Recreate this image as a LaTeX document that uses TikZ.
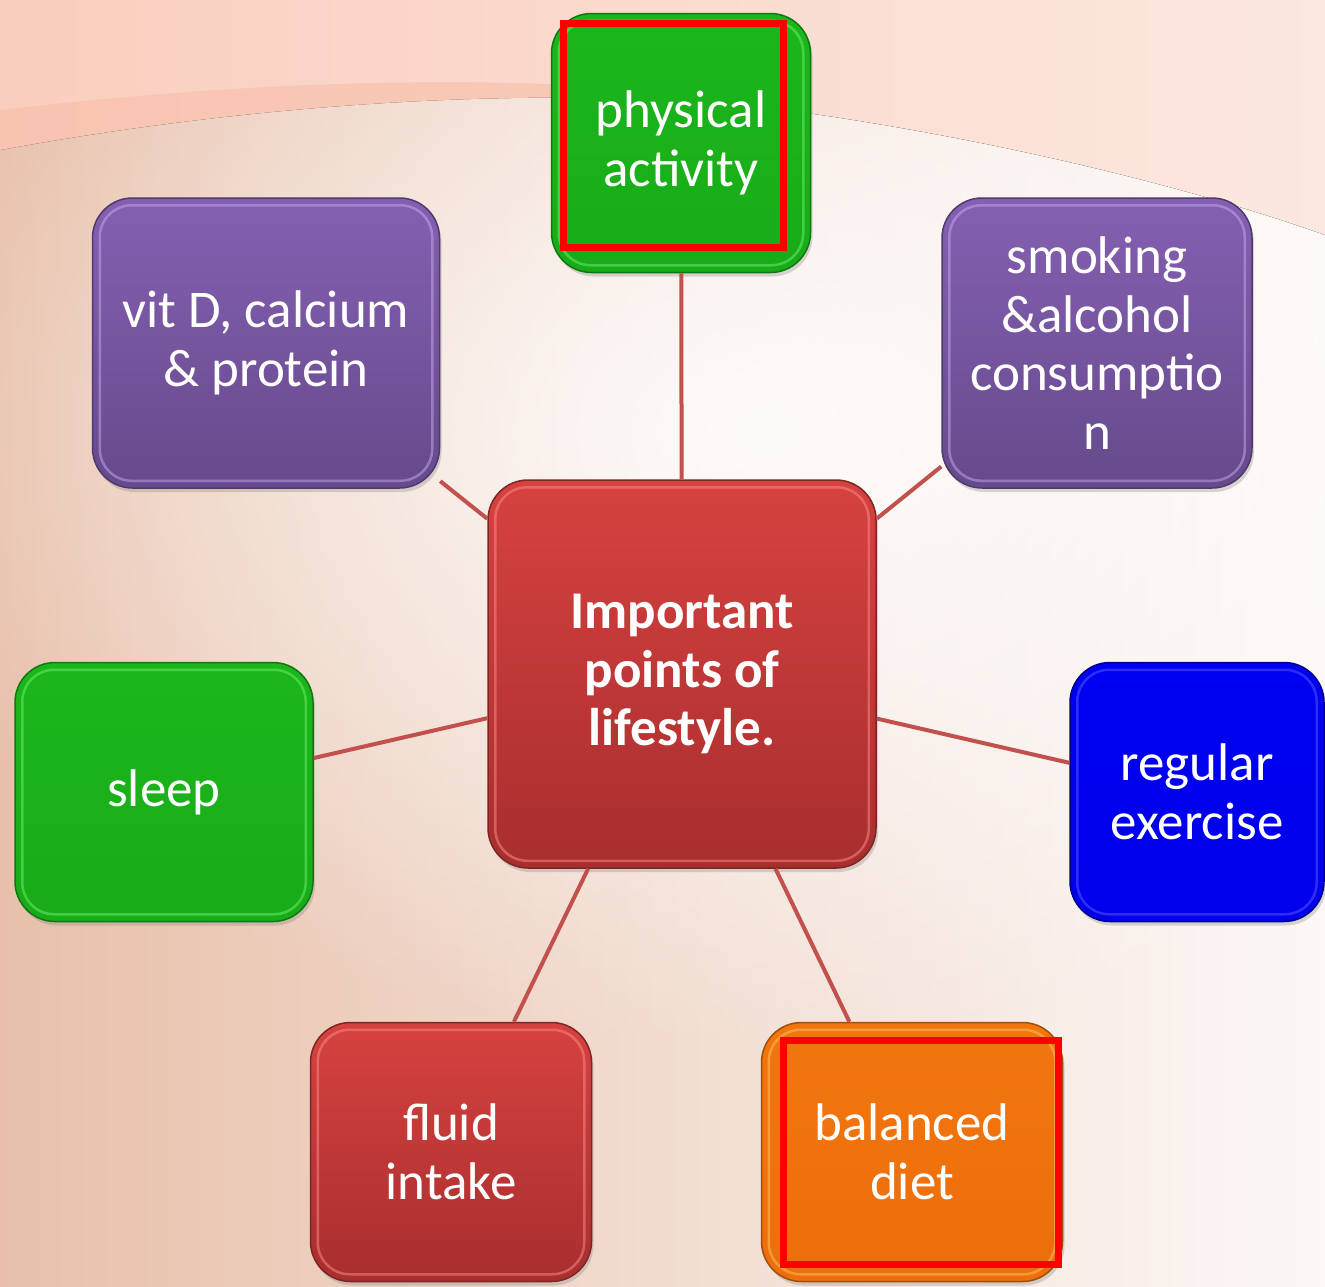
\documentclass[tikz,border=0pt]{standalone}
\usepackage{fontspec}
\setmainfont{Carlito}
\usetikzlibrary{shadows,fadings}
\tikzfading[name=softglow, inner color=transparent!0, outer color=transparent!100]
\definecolor{bgPeach}{RGB}{232,192,170}
\definecolor{bgLight}{RGB}{252,248,246}
\definecolor{bgPinkA}{RGB}{250,206,190}
\definecolor{bgPinkB}{RGB}{252,232,224}
\definecolor{bgBand}{RGB}{247,190,168}
\definecolor{greenTop}{RGB}{28,182,28}
\definecolor{greenBot}{RGB}{24,172,24}
\definecolor{greenEdge}{RGB}{16,120,16}
\definecolor{greenRim}{RGB}{110,240,110}
\definecolor{purpleTop}{RGB}{133,96,178}
\definecolor{purpleBot}{RGB}{102,74,140}
\definecolor{purpleEdge}{RGB}{78,58,108}
\definecolor{purpleRim}{RGB}{200,170,240}
\definecolor{redTop}{RGB}{214,66,64}
\definecolor{redBot}{RGB}{168,46,46}
\definecolor{redEdge}{RGB}{125,38,38}
\definecolor{redRim}{RGB}{255,140,140}
\definecolor{blueTop}{RGB}{0,0,242}
\definecolor{blueBot}{RGB}{0,0,236}
\definecolor{blueEdge}{RGB}{0,0,140}
\definecolor{blueRim}{RGB}{90,90,255}
\definecolor{orangeTop}{RGB}{242,118,14}
\definecolor{orangeBot}{RGB}{236,110,12}
\definecolor{orangeEdge}{RGB}{160,78,10}
\definecolor{orangeRim}{RGB}{255,195,100}
\definecolor{linkRed}{RGB}{194,80,77}
\definecolor{markRed}{RGB}{255,0,0}
\tikzset{
  box/.style={rectangle, rounded corners=40pt, draw=#1Edge, line width=1.5pt,
    top color=#1Top, bottom color=#1Bot, text=white, align=center,
    font=\fontsize{53}{58.5}\selectfont, inner sep=0pt,
    drop shadow={shadow xshift=2pt, shadow yshift=-4pt, opacity=0.3}},
  link/.style={draw=linkRed, line width=4pt},
  markbox/.style={draw=markRed, line width=7pt},
}
\newcommand{\rimline}[2]{%
  \draw[#2, line width=2.5pt, opacity=0.5, rounded corners=32pt]
    ([xshift=8pt,yshift=8pt]#1.south west) rectangle ([xshift=-8pt,yshift=-8pt]#1.north east);}
\begin{document}
\begin{tikzpicture}[x=1pt,y=-1pt]
\useasboundingbox (0,0) rectangle (1325,1286);
\clip (0,0) rectangle (1325,1286);
% background
\fill[left color=bgPeach, right color=bgLight] (0,0) rectangle (1325,1286);
\fill[white, path fading=softglow, opacity=0.9] (760,430) ellipse (900 and 620);
\fill[left color=bgPinkA, right color=bgPinkB]
  (0,0) -- (0,150) .. controls (300,95) and (600,85) .. (800,112)
  .. controls (1000,140) and (1200,190) .. (1325,235) -- (1325,0) -- cycle;
\fill[bgBand, opacity=0.6]
  (0,150) .. controls (300,95) and (600,85) .. (800,112)
  .. controls (600,70) and (300,75) .. (0,110) -- cycle;
% boxes
\node[box=green, minimum width=259pt, minimum height=259pt] (phys) at (681,143) {physical\\activity};
\node[box=purple, minimum width=347pt, minimum height=290pt] (vitd) at (266,343) {vit D, calcium\\\& protein};
\node[box=purple, minimum width=310pt, minimum height=290pt] (smok) at (1097,343) {smoking\\\&alcohol\\consumptio\\n};
\node[box=red, minimum width=388pt, minimum height=388pt, font=\fontsize{53}{58.5}\selectfont\bfseries] (core) at (682,674) {Important\\points of\\lifestyle.};
\node[box=green, minimum width=298pt, minimum height=259pt] (sleep) at (164,792) {sleep};
\node[box=blue, minimum width=254pt, minimum height=259pt] (exer) at (1197,792) {regular\\exercise};
\node[box=red, minimum width=281pt, minimum height=259pt] (fluid) at (451,1152) {fluid\\intake};
\node[box=orange, minimum width=301pt, minimum height=259pt] (diet) at (912,1152) {balanced\\diet};
\rimline{phys}{greenRim}
\rimline{vitd}{purpleRim}
\rimline{smok}{purpleRim}
\rimline{core}{redRim}
\rimline{sleep}{greenRim}
\rimline{exer}{blueRim}
\rimline{fluid}{redRim}
\rimline{diet}{orangeRim}
% connectors
\draw[link] (core) -- (phys);
\draw[link] (core) -- (vitd);
\draw[link] (core) -- (smok);
\draw[link] (core) -- (sleep);
\draw[link] (core) -- (exer);
\draw[link] (core) -- (fluid);
\draw[link] (core) -- (diet);
% highlight marks
\draw[markbox] (563,23) rectangle (783,247);
\draw[markbox] (783,1040) rectangle (1058,1264);
\end{tikzpicture}
\end{document}
